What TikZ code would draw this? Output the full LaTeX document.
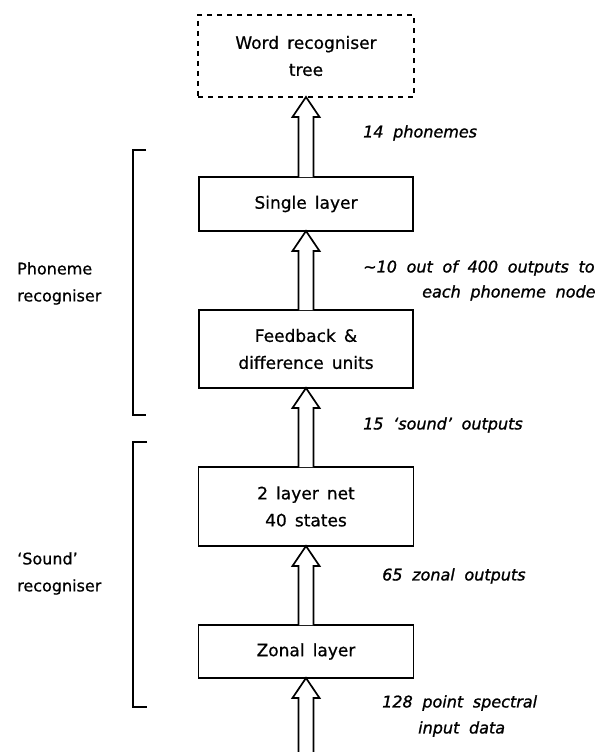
\documentclass[tikz,border=0pt]{standalone}
\usepackage{fontspec}
\setmainfont{DejaVu Sans}
\newfontfamily\boxfont[WordSpace=1.5, FakeBold=0.7]{DejaVu Sans}
\newfontfamily\labfont[WordSpace=1.9, FakeBold=1.2]{DejaVu Sans}
\usetikzlibrary{calc}

\tikzset{
  stage/.style={draw, line width=1.7pt, inner sep=0pt, outer sep=0pt,
    align=center, font=\boxfont\fontsize{17}{27}\selectfont},
  dashedstage/.style={stage, dash pattern=on 5pt off 5pt},
  flowlabel/.style={anchor=west, inner sep=0pt,
    font=\labfont\itshape\fontsize{16}{20}\selectfont},
  sidelabel/.style={anchor=west, inner sep=0pt, align=left,
    font=\boxfont\fontsize{16}{27}\selectfont},
  fatarrow/.style={draw, line width=1.7pt, fill=white, line join=miter},
  bracket/.style={draw, line width=1.7pt}
}

% hollow block arrow from #1 (tail) to #2 (tip)
\newcommand\blockarrow[2]{%
  \path[fatarrow]
    ($(#1)+(-7.5,0)$) -- ($(#2)+(-7.5,20)$) -- ($(#2)+(-13.5,20)$) --
    (#2) --
    ($(#2)+(13.5,20)$) -- ($(#2)+(7.5,20)$) -- ($(#1)+(7.5,0)$);%
}

\begin{document}
\begin{tikzpicture}[x=1pt, y=-1pt]
  \useasboundingbox (0,0) rectangle (603,752);

  % processing stages
  \node[dashedstage, minimum width=216pt, minimum height=82pt] (word) at (306,56)
    {Word recogniser\\tree};
  \node[stage, minimum width=214pt, minimum height=54pt] (single) at (306,204)
    {Single layer};
  \node[stage, minimum width=214pt, minimum height=78pt] (feed) at (306,349)
    {Feedback \&\\difference units};
  \node[stage, minimum width=215pt, minimum height=79pt] (net) at (306,506.5)
    {2 layer net\\40 states};
  \node[stage, minimum width=215pt, minimum height=53pt] (zonal) at (306,651.5)
    {Zonal layer};
  \coordinate (input) at (306,752);

  % data flow
  \blockarrow{single.north}{word.south}
  \blockarrow{feed.north}{single.south}
  \blockarrow{net.north}{feed.south}
  \blockarrow{zonal.north}{net.south}
  \blockarrow{input}{zonal.south}

  % flow annotations
  \node[flowlabel] (l14) at (363,133) {14 phonemes};
  \node[flowlabel] (l10a) at (363,268) {\textasciitilde10 out of 400 outputs to};
  \node[flowlabel] (l10b) at (422,293) {each phoneme node};
  \node[flowlabel] (l15) at (363,425) {15 ‘sound’ outputs};
  \node[flowlabel] (l65) at (382,576) {65 zonal outputs};
  \node[flowlabel] (l128a) at (382,703) {128 point spectral};
  \node[flowlabel] (l128b) at (418,729) {input data};

  % grouping brackets
  \coordinate (pt) at (146,150);
  \coordinate (pb) at (146,415);
  \draw[bracket] (pt) -- ++(-13,0) |- (pb);
  \coordinate (st) at (147,442);
  \coordinate (sb) at (147,707);
  \draw[bracket] (st) -- ++(-14,0) |- (sb);

  \node[sidelabel] (phon) at (17,283.5) {Phoneme\\recogniser};
  \node[sidelabel] (sound) at (17,573.5) {‘Sound’\\recogniser};
\end{tikzpicture}
\end{document}
